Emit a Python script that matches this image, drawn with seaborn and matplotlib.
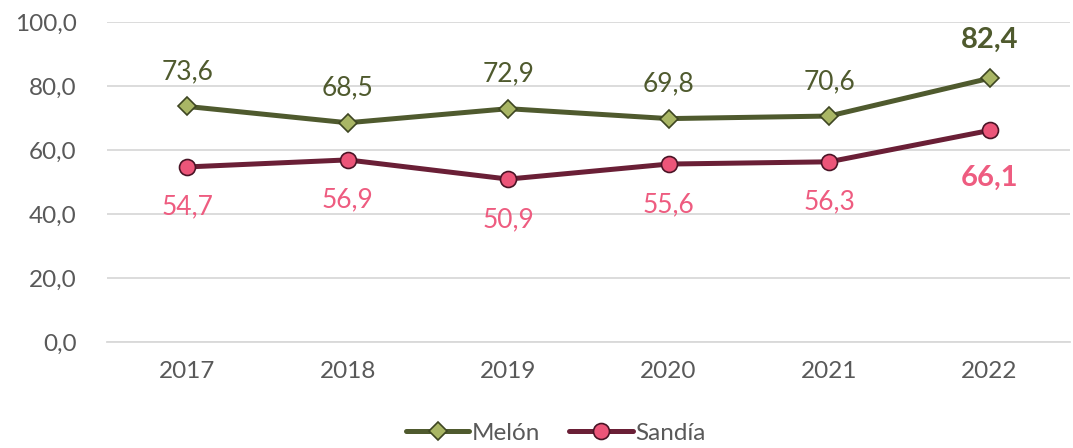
import matplotlib
matplotlib.use("Agg")
import matplotlib.pyplot as plt
from matplotlib.lines import Line2D
import seaborn as sns
import pandas as pd

years = ["2017", "2018", "2019", "2020", "2021", "2022"]
melon = [73.6, 68.5, 72.9, 69.8, 70.6, 82.4]
sandia = [54.7, 56.9, 50.9, 55.6, 56.3, 66.1]
y_ticks = [0, 20, 40, 60, 80, 100]

melon_line = "#4F5A2E"
melon_fill = "#A9B665"
sandia_line = "#6A1F36"
sandia_fill = "#EC5579"
sandia_text = "#EE5C80"
grid_col = "#D9D9D9"
text_col = "#595959"

sns.set_theme(style="white")
plt.rcParams["font.family"] = ["Lato", "DejaVu Sans"]

fig = plt.figure(figsize=(10.73, 4.48), dpi=100)
ax = fig.add_axes([0.0997, 0.2366, 0.8973, 0.7144])

df = pd.DataFrame({"year": years, "Melón": melon, "Sandía": sandia})

sns.lineplot(data=df, x="year", y="Melón", ax=ax, color=melon_line, linewidth=3.6,
             marker="D", markersize=9, markerfacecolor=melon_fill,
             markeredgecolor="#3E4622", markeredgewidth=1.2, zorder=3)
sns.lineplot(data=df, x="year", y="Sandía", ax=ax, color=sandia_line, linewidth=3.6,
             marker="o", markersize=11.5, markerfacecolor=sandia_fill,
             markeredgecolor="#4A1426", markeredgewidth=1.2, zorder=3)

ax.set_xlim(-0.5, len(years) - 0.5)
ax.set_ylim(0, 100)
ax.set_yticks(y_ticks)
ax.set_yticklabels([f"{v:.1f}".replace(".", ",") for v in y_ticks])
ax.yaxis.grid(True, color=grid_col, linewidth=1.3)
ax.set_axisbelow(True)
for s in ["top", "right", "left"]:
    ax.spines[s].set_visible(False)
ax.spines["bottom"].set_color(grid_col)
ax.spines["bottom"].set_linewidth(1.3)
ax.set_xlabel("")
ax.set_ylabel("")

ax.set_xticks(range(len(years)))
ax.set_xticklabels(years)
ax.set_xticks([i - 0.5 for i in range(len(years) + 1)], minor=True)
ax.tick_params(axis="x", which="major", length=0, pad=14, labelsize=17.5, labelcolor=text_col)
ax.tick_params(axis="x", which="minor", length=8, width=1.3, color=grid_col)
ax.tick_params(axis="y", length=0, pad=22, labelsize=17.5, labelcolor=text_col)

last = len(years) - 1
for i, v in enumerate(melon):
    bold = i == last
    ax.annotate(f"{v:.1f}".replace(".", ","), (i, v), xytext=(0, 28 if bold else 25),
                textcoords="offset points", ha="center", va="center",
                fontsize=21 if bold else 19, fontweight="bold" if bold else "normal",
                color=melon_line)
for i, v in enumerate(sandia):
    bold = i == last
    ax.annotate(f"{v:.1f}".replace(".", ","), (i, v), xytext=(0, -34 if bold else -29),
                textcoords="offset points", ha="center", va="center",
                fontsize=21 if bold else 19, fontweight="bold" if bold else "normal",
                color=sandia_text)

handles = [
    Line2D([], [], color=melon_line, linewidth=3.6, marker="D", markersize=9,
           markerfacecolor=melon_fill, markeredgecolor="#3E4622", markeredgewidth=1.2),
    Line2D([], [], color=sandia_line, linewidth=3.6, marker="o", markersize=11.5,
           markerfacecolor=sandia_fill, markeredgecolor="#4A1426", markeredgewidth=1.2),
]
leg = fig.legend(handles, ["Melón", "Sandía"], loc="center", bbox_to_anchor=(0.518, 0.033),
                 ncol=2, frameon=False, fontsize=17.5, handlelength=2.6, handletextpad=0.1,
                 columnspacing=1.2)
for t in leg.get_texts():
    t.set_color(text_col)

fig.savefig("out.png", dpi=100)
